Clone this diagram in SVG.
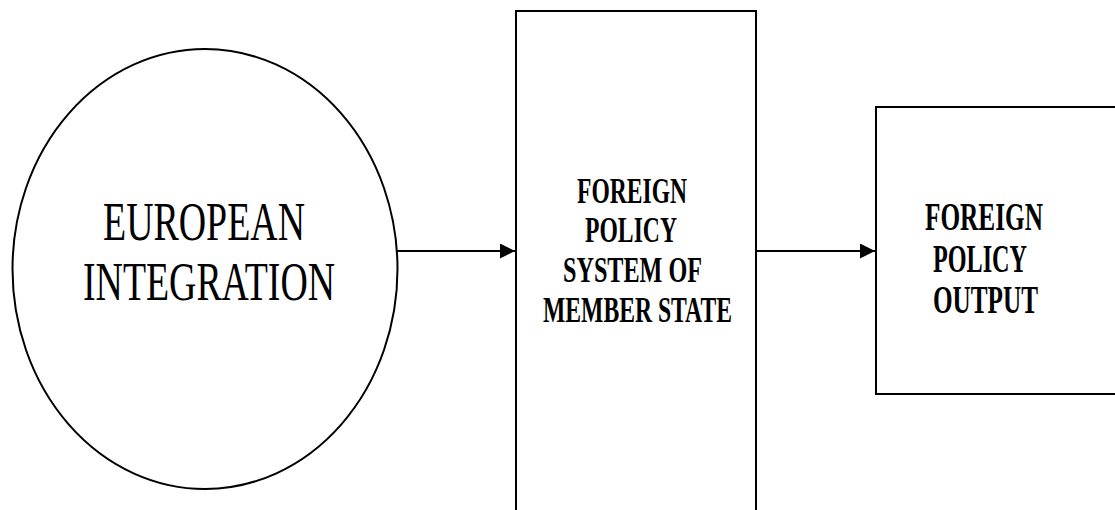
<svg xmlns="http://www.w3.org/2000/svg" width="1115" height="510" viewBox="0 0 1115 510">
<style>
.shape{fill:#fff;stroke:#000;stroke-width:2}
.lbl{font-family:"Liberation Serif","Times New Roman",serif;fill:#000}
.big{font-size:54px}
.mid{font-size:35px;font-weight:bold}
.rt{font-size:39px;font-weight:bold}
.conn{stroke:#000;stroke-width:2;fill:none}
</style>
<defs>
<marker id="arr" markerUnits="userSpaceOnUse" markerWidth="16" markerHeight="16" refX="15" refY="7.5" orient="auto">
<path d="M0,0 L15,7.5 L0,15 z" fill="#000"/>
</marker>
</defs>
<rect width="1115" height="510" fill="#fff"/>
<g id="european-integration">
<ellipse class="shape" cx="205" cy="269" rx="192.5" ry="220"/>
<text class="lbl big" x="103" y="240" textLength="202" lengthAdjust="spacingAndGlyphs">EUROPEAN</text>
<text class="lbl big" x="83" y="300" textLength="252" lengthAdjust="spacingAndGlyphs">INTEGRATION</text>
</g>
<g id="foreign-policy-system">
<rect class="shape" x="516" y="11" width="240" height="520"/>
<text class="lbl mid" x="577" y="203" textLength="110" lengthAdjust="spacingAndGlyphs">FOREIGN</text>
<text class="lbl mid" x="585" y="242" textLength="92" lengthAdjust="spacingAndGlyphs">POLICY</text>
<text class="lbl mid" x="563" y="282" textLength="139" lengthAdjust="spacingAndGlyphs">SYSTEM OF</text>
<text class="lbl mid" x="543" y="322" textLength="189" lengthAdjust="spacingAndGlyphs">MEMBER STATE</text>
</g>
<g id="foreign-policy-output">
<rect class="shape" x="876" y="107" width="260" height="287"/>
<text class="lbl rt" x="925" y="230" textLength="118" lengthAdjust="spacingAndGlyphs">FOREIGN</text>
<text class="lbl rt" x="933" y="272" textLength="94" lengthAdjust="spacingAndGlyphs">POLICY</text>
<text class="lbl rt" x="933" y="313" textLength="105" lengthAdjust="spacingAndGlyphs">OUTPUT</text>
</g>
<g id="connectors">
<line class="conn" x1="397" y1="251" x2="515" y2="251" marker-end="url(#arr)"/>
<line class="conn" x1="756" y1="251" x2="875" y2="251" marker-end="url(#arr)"/>
</g>
</svg>
